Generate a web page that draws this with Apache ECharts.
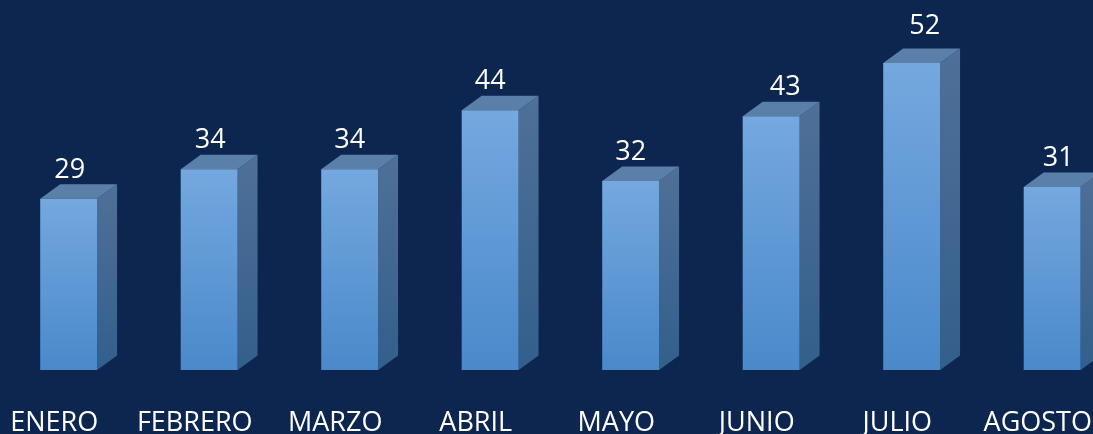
<!DOCTYPE html>
<html>
<head>
<meta charset="utf-8">
<script src="https://cdn.jsdelivr.net/npm/echarts@6/dist/echarts.min.js"></script>
<style>
html,body{margin:0;padding:0;background:#0c264f;}
#c{width:1093px;height:434px;}
</style>
</head>
<body>
<div id="c"></div>
<script>
const categories = ['ENERO', 'FEBRERO', 'MARZO', 'ABRIL', 'MAYO', 'JUNIO', 'JULIO', 'AGOSTO'];
const values = [29, 34, 34, 44, 32, 43, 52, 31];

// label nudges (style only)
const labelNudgeX = [1, 1, 0, 0, 0, 14, 13, 6];
const labelNudgeY = [0, 0, 0, 0, 0, 0, -8, 0];

const chart = echarts.init(document.getElementById('c'), null, {renderer: 'canvas'});
const FONT = '"Open Sans", sans-serif';

function renderItem(params, api) {
  const i = api.value(0);
  const v = api.value(1);
  const top = api.coord([i, v]);
  const base = api.coord([i, 0]);
  const band = api.size([1, 0])[0];
  const bw = band * 0.405;
  const x0 = top[0] - band * 0.1;
  const dx = band * 0.142;
  const dy = 14.5;
  const t = top[1], b = base[1];
  const grad = (c0, c1) => new echarts.graphic.LinearGradient(0, 0, 0, 1, [
    {offset: 0, color: c0}, {offset: 1, color: c1}
  ]);
  return {
    type: 'group',
    children: [
      {
        type: 'polygon',
        shape: {points: [[x0 + bw, t], [x0 + bw + dx, t - dy], [x0 + bw + dx, b - dy], [x0 + bw, b]]},
        style: {fill: grad('#4f7098', '#335f8c')}
      },
      {
        type: 'polygon',
        shape: {points: [[x0, t], [x0 + dx, t - dy], [x0 + bw + dx, t - dy], [x0 + bw, t]]},
        style: {fill: '#5a7fa9'}
      },
      {
        type: 'rect',
        shape: {x: x0, y: t, width: bw, height: b - t},
        style: {fill: grad('#74a8df', '#4a89ca')}
      },
      {
        type: 'text',
        style: {
          text: String(v),
          x: x0 + bw / 2 + labelNudgeX[i],
          y: t - dy - 14 + labelNudgeY[i],
          align: 'center',
          verticalAlign: 'middle',
          fill: '#ffffff',
          font: '27px ' + FONT
        }
      }
    ]
  };
}

chart.setOption({
  backgroundColor: '#0c264f',
  animation: false,
  grid: {left: -16, width: 1124, top: 15.76, bottom: 64, containLabel: false, outerBoundsMode: 'none'},
  xAxis: {
    type: 'category',
    data: categories,
    axisLine: {show: false},
    axisTick: {show: false},
    splitLine: {show: false},
    axisLabel: {color: '#ffffff', fontFamily: '"Open Sans", sans-serif', fontSize: 27, margin: 40, interval: 0}
  },
  yAxis: {type: 'value', min: 0, max: 60, show: false, splitLine: {show: false}},
  series: [{
    type: 'custom',
    renderItem: renderItem,
    encode: {x: 0, y: 1},
    data: values.map((v, i) => [i, v]),
    clip: false
  }]
});
</script>
</body>
</html>
